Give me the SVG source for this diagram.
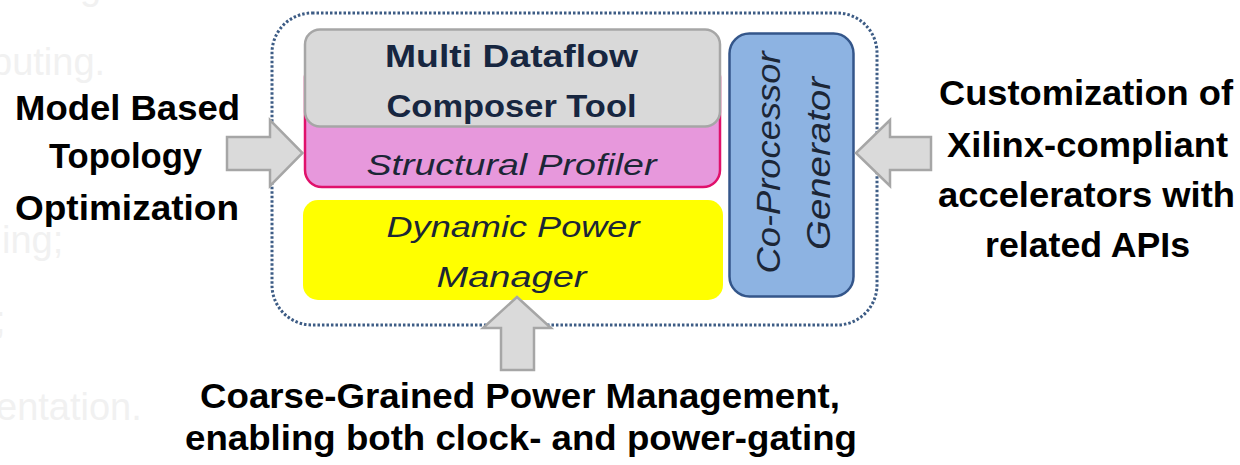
<svg xmlns="http://www.w3.org/2000/svg" width="1240" height="465" viewBox="0 0 1240 465">
<style>
.ghost{font-family:"Liberation Sans",Arial,sans-serif;font-size:38px;fill:#f1f1f1}
.lbl{font-family:"Liberation Sans",Arial,sans-serif;font-size:35px;font-weight:bold;fill:#000;text-anchor:middle}
.bt{font-family:"Liberation Sans",Arial,sans-serif;font-size:31px;font-weight:bold;fill:#172640;text-anchor:middle}
.it{font-family:"Liberation Sans",Arial,sans-serif;font-size:30px;font-style:italic;fill:#1c2636;text-anchor:middle}
.arrow{fill:#dadada;stroke:#a6a6a6;stroke-width:2.5;stroke-linejoin:miter}
</style>
<rect width="1240" height="465" fill="#ffffff"/>
<g id="ghost-text">
<text class="ghost" x="80" y="-1">g</text>
<text class="ghost" x="-9" y="75">puting.</text>
<text class="ghost" x="2" y="253">ing;</text>
<text class="ghost" x="-5" y="333">;</text>
<text class="ghost" x="-4" y="420">entation.</text>
</g>
<g id="container">
<rect x="272" y="13" width="605" height="312" rx="40" ry="40" fill="none" stroke="#3d5c85" stroke-width="3" stroke-dasharray="2.5 2"/>
</g>
<g id="structural-profiler">
<rect x="305" y="60" width="415" height="127" rx="17" fill="#e798dc" stroke="#e0116b" stroke-width="2.5"/>
<text class="it" x="511.5" y="175" textLength="290" lengthAdjust="spacingAndGlyphs">Structural Profiler</text>
</g>
<g id="multi-dataflow-composer">
<rect x="305" y="29.5" width="415" height="97" rx="15" fill="#d9d9d9" stroke="#a6a6a6" stroke-width="2.5"/>
<text class="bt" x="511.5" y="66.5" textLength="253" lengthAdjust="spacingAndGlyphs">Multi Dataflow</text>
<text class="bt" x="511.5" y="116.5" textLength="250" lengthAdjust="spacingAndGlyphs">Composer Tool</text>
</g>
<g id="dynamic-power-manager">
<rect x="303" y="200" width="420" height="100" rx="15" fill="#ffff00"/>
<text class="it" x="513" y="236.5" textLength="253" lengthAdjust="spacingAndGlyphs">Dynamic Power</text>
<text class="it" x="511.5" y="287" textLength="150" lengthAdjust="spacingAndGlyphs">Manager</text>
</g>
<g id="co-processor-generator">
<rect x="729.5" y="33.5" width="124" height="263" rx="20" fill="#8db3e2" stroke="#34568a" stroke-width="2.5"/>
<text class="it" transform="translate(780,162.5) rotate(-90)" x="0" y="0" style="font-size:34px" textLength="222" lengthAdjust="spacingAndGlyphs">Co-Processor</text>
<text class="it" transform="translate(830,163.5) rotate(-90)" x="0" y="0" style="font-size:34px" textLength="173" lengthAdjust="spacingAndGlyphs">Generator</text>
</g>
<g id="label-left">
<text class="lbl" x="127.5" y="120" textLength="225" lengthAdjust="spacingAndGlyphs">Model Based</text>
<text class="lbl" x="125.5" y="168" textLength="153" lengthAdjust="spacingAndGlyphs">Topology</text>
<text class="lbl" x="127" y="220" textLength="224" lengthAdjust="spacingAndGlyphs">Optimization</text>
</g>
<g id="label-right">
<text class="lbl" x="1086" y="105" textLength="294" lengthAdjust="spacingAndGlyphs">Customization of</text>
<text class="lbl" x="1087.5" y="156.5" textLength="281" lengthAdjust="spacingAndGlyphs">Xilinx-compliant</text>
<text class="lbl" x="1086.5" y="206.5" textLength="297" lengthAdjust="spacingAndGlyphs">accelerators with</text>
<text class="lbl" x="1087.5" y="256.5" textLength="205" lengthAdjust="spacingAndGlyphs">related APIs</text>
</g>
<g id="label-bottom">
<text class="lbl" x="520" y="408" textLength="640" lengthAdjust="spacingAndGlyphs">Coarse-Grained Power Management,</text>
<text class="lbl" x="521" y="450" textLength="672" lengthAdjust="spacingAndGlyphs">enabling both clock- and power-gating</text>
</g>
<g id="connectors">
<polygon class="arrow" points="227,137 270,137 270,120 302.5,153 270,186 270,170 227,170"/>
<polygon class="arrow" points="931,137 890,137 890,120 856,153 890,186 890,170 931,170"/>
<polygon class="arrow" points="501,370 501,328 483,328 517,297 551,328 534,328 534,370"/>
</g>
</svg>
